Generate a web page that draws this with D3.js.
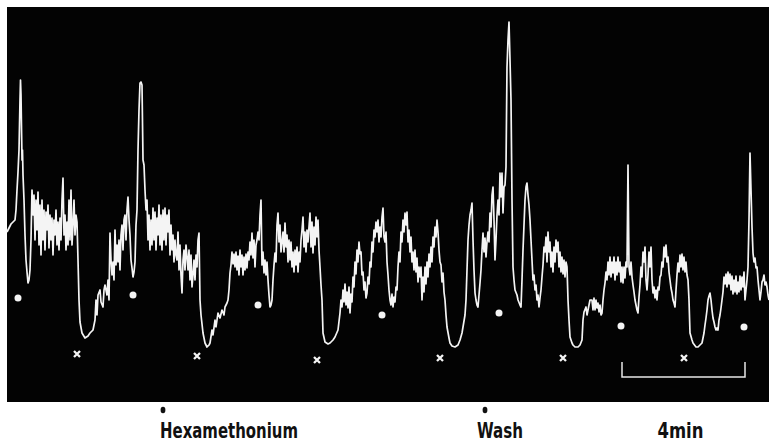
<!DOCTYPE html>
<html>
<head>
<meta charset="utf-8">
<script src="https://cdn.jsdelivr.net/npm/d3@7"></script>
<style>
  body { margin: 0; background: #fff; }
  svg { display: block; }
</style>
</head>
<body>
<svg id="chart"></svg>
<script>
// trace: [time (samples), level (arbitrary units)]
var trace = [
  [0,170],[2,174],[4,178],[6,180],[8,182],[9,192],[10,212],[11,230],[12,252],[13,302],[13.5,322],[14,307],[15,242],[15.5,252],[16,227],[17,202],[18,167],[19,142],[20,130],[21,119],[22,122],[23,132],[24,162],[25,212],[26,187],[27,207],[28,162],[29,202],[30,172],[31,210],[32,157],[33,197],[34,147],[35,202],[36,162],[37,192],[38,152],[39,190],[40,172],[41,197],[42,154],[43,187],[44,162],[45,184],[46,147],[47,182],[48,167],[49,192],[50,157],[51,180],[52,152],[53,184],[54,162],[55,202],[56,224],[57,167],[58,187],[59,152],[60,180],[61,157],[62,202],[63,162],[64,212],[65,157],[66,177],[67,202],[68,167],[69,187],[70,180],[71,142],[72,102],[73,80],[75,69],[78,64],[81,66],[83,69],[86,72],[88,82],[89,102],[90,87],[91,107],[93,112],[94,100],[96,95],[97,112],[98,117],[100,107],[101,122],[102,102],[103,169],[104,142],[105,127],[106,140],[107,122],[108,172],[109,137],[110,157],[111,140],[112,162],[113,132],[114,167],[115,177],[116,152],[117,182],[118,187],[119,162],[120,192],[121,205],[122,182],[123,167],[124,142],[125,134],[126,125],[127,130],[128,140],[129,177],[130,192],[131,252],[132,292],[133,319],[134,320],[135,317],[136,242],[137,237],[138,212],[139,192],[140,202],[141,162],[142,187],[143,152],[144,182],[145,157],[146,194],[147,162],[148,190],[149,152],[150,184],[151,167],[152,197],[153,157],[154,187],[155,152],[156,192],[157,162],[158,194],[159,157],[160,187],[161,170],[162,192],[163,147],[164,177],[165,152],[166,167],[167,140],[168,162],[169,147],[170,142],[171,170],[172,132],[173,157],[174,127],[175,109],[176,142],[177,152],[178,132],[179,157],[180,145],[181,132],[182,152],[183,122],[184,147],[185,115],[186,127],[187,142],[188,122],[189,147],[190,135],[191,162],[192,169],[193,102],[194,87],[196,69],[198,59],[200,55],[202,57],[203,59],[205,72],[206,67],[208,82],[209,75],[211,89],[213,84],[215,92],[217,87],[218,95],[220,99],[221,102],[222,112],[223,129],
  [224,137],[225,150],[226,138],[227,148],[228,135],[229,150],[230,132],[231,146],[232,127],[233,152],[234,135],[235,147],[236,127],[237,145],[238,132],[239,148],[240,134],[241,150],[242,142],[243,160],[244,147],[245,169],[246,144],[247,162],[248,135],[249,157],[250,162],[251,170],[252,162],[253,187],[254,202],
  [255,137],[256,150],[257,129],[258,142],[259,127],[260,140],[261,122],[262,107],[263,95],[264,97],[265,102],[266,122],[267,137],[268,149],[269,140],[270,177],[271,189],[272,160],[273,177],[274,150],[275,160],[276,170],[277,150],[278,179],[279,155],[280,167],[281,140],[282,162],[283,142],[284,160],[285,135],[286,150],[287,130],[288,152],[289,137],[290,155],[291,130],[292,150],[293,140],[294,162],[295,172],[296,185],[297,155],[298,170],[299,150],[300,172],[301,160],[302,175],[303,189],[304,155],[305,180],[306,149],[307,175],[308,157],[309,185],[310,165],[311,182],[312,152],[313,135],[314,117],[315,102],
  [316,69],[318,60],[321,58],[323,59],[326,62],[328,65],[331,72],
  [333,89],[334,102],[335,95],[336,112],[337,100],[338,118],[339,97],[340,110],[341,94],[342,115],[343,89],[344,108],[345,100],[346,125],[347,115],[348,140],[349,128],[350,152],[351,140],[352,160],[353,148],[354,150],[355,127],[356,130],[357,112],[358,120],[359,104],[360,109],[361,125],[362,118],[363,140],[364,135],[365,160],[366,150],[367,172],[368,165],[369,180],[370,170],[371,182],[372,160],[373,175],[374,165],[375,185],[376,194],[377,165],[378,160],[379,170],[380,140],[381,127],[382,112],[383,102],[384,97],[385,108],[386,95],[387,105],[388,100],[389,115],[390,112],[391,135],[392,150],[393,140],[394,170],[395,160],[396,182],[397,170],[398,189],[399,177],[400,190],[401,160],[402,172],[403,150],[404,165],[405,140],[406,150],[407,132],[408,152],[409,130],[410,144],[411,120],[412,135],[413,125],[414,135],[415,102],[416,125],[417,110],[418,135],[419,118],[420,140],[421,125],[422,148],[423,135],[424,155],[425,140],[426,165],[427,155],[428,175],[429,165],[430,182],[431,170],[432,152],[433,140],[434,137],[435,120],[436,129],[437,110],[438,102],
  [439,87],[440,75],[442,64],[443,59],[445,56],[448,55],[451,57],[453,62],[455,69],[456,75],[458,87],[459,102],[460,132],[461,162],[462,177],[463,187],[464,192],[465,199],
  [466,162],[467,132],[468,109],[469,102],[470,97],[471,95],[472,107],[473,119],[474,132],[475,152],[476,169],[477,150],[478,164],[479,145],[480,160],[481,170],[482,160],[483,189],[484,175],[485,207],[486,215],[487,182],[488,142],[489,162],[490,187],[491,202],[492,187],[493,229],[494,205],[495,229],[496,189],[497,215],[498,217],[499,235],[500,335],[501,362],[502,380],[503,342],[504,302],[505,202],[506,135],[507,122],[508,112],[510,107],[511,102],[513,97],[514,95],[515,122],[516,152],[517,177],[518,202],[519,215],[520,219],
  [521,207],[522,197],[523,182],[524,162],[525,142],[526,122],[527,127],[528,112],[529,117],[530,102],[531,107],[532,95],[533,104],[534,112],[535,125],[536,137],[537,155],[538,150],[539,165],[540,140],[541,170],[542,150],[543,160],[544,135],[545,150],[546,130],[547,155],[548,140],[549,162],[550,150],[551,160],[552,135],[553,150],[554,130],[555,145],[556,128],[557,142],[558,125],[559,140],[560,135],
  [561,102],[562,82],[563,65],[565,59],[566,57],[568,55],[571,55],[573,57],[575,62],[576,82],[577,90],[579,95],[580,87],[581,92],[582,97],[583,102],[585,102],[586,92],[587,104],[588,92],[589,102],[590,94],[591,99],[592,90],[593,97],[594,87],[595,89],
  [596,102],[597,112],[598,119],[599,130],[600,122],[601,140],[602,127],[603,145],[604,125],[605,140],[606,129],[607,145],[608,122],[609,140],[610,127],[611,145],[612,130],[613,140],[614,120],[615,135],[616,119],[617,135],[618,124],[619,140],[620,135],[621,237],[622,135],[623,127],[624,140],[625,125],[626,117],[627,110],[628,102],[629,97],[630,92],[631,89],[632,105],[633,117],[634,135],[635,125],[636,150],[637,140],[638,155],[639,122],[640,112],[641,127],[642,150],[643,135],[644,155],[645,122],[646,109],[647,115],[648,104],[649,112],[650,102],[651,115],[652,112],[653,125],[654,127],[655,140],[656,135],[657,155],[658,145],[659,157],[660,140],[661,145],[662,130],[663,122],[664,114],[665,109],[666,102],[667,99],[668,95],[669,112],[670,127],[671,139],[672,130],[673,147],[674,135],[675,148],[676,132],[677,145],[678,130],[679,140],[680,127],[681,122],[682,102],
  [683,69],[685,62],[686,59],[689,55],[691,55],[693,57],[695,59],[696,64],[697,69],[698,77],[699,84],[700,92],[701,102],[702,106],[703,109],[704,102],[705,92],[706,84],[707,80],[708,75],[709,72],[710,74],[711,72],[712,82],[713,87],[714,94],
  [715,102],[716,110],[717,125],[718,118],[719,128],[720,115],[721,130],[722,118],[723,128],[724,112],[725,126],[726,108],[727,122],[728,110],[729,126],[730,108],[731,120],[732,110],[733,126],[734,112],[735,125],[736,115],[737,130],[738,102],[739,112],[740,122],[741,135],[742,182],[743,249],[744,212],[745,175],[746,149],[747,140],[748,144],[749,134],[750,135],[751,122],[752,112],[753,102],[754,110],[755,120],[756,122],[757,127],[758,117],[759,120],[760,115],[761,107],[762,102]
];

// dots (contraction onset) and crosses (relaxation) marked on the record
var dotMarks = [[11,104],[126,107],[251,97],[375,87],[492,89],[614,76],[737,75]];
var crossMarks = [[70,48],[190,46],[310,42],[433,44],[556,44],[677,44]];

// events under the record
var eventNames = ["Hexamethonium", "Wash"];
var eventTimes = [156, 478];
var eventLabelStart = [153, 470];
var eventLabelWidth = [138, 46];

// time calibration bar: 4 min
var barTimes = [615, 738];
var barLevels = [40, 25];
var barLabel = "4min";

var width = 769, height = 443;
var panel = {left: 7, top: 7, right: 769, bottom: 402};

var svg = d3.select("#chart")
    .attr("width", width)
    .attr("height", height);

var x = d3.scaleLinear()
    .domain([0, 762])
    .range([panel.left, panel.right]);

var y = d3.scaleLinear()
    .domain([0, 395])
    .range([panel.bottom, panel.top]);

svg.append("rect")
    .attr("x", panel.left)
    .attr("y", panel.top)
    .attr("width", panel.right - panel.left)
    .attr("height", panel.bottom - panel.top)
    .attr("fill", "#030303");

var line = d3.line()
    .x(function(d) { return x(d[0]); })
    .y(function(d) { return y(d[1]); });

svg.append("path")
    .datum(trace)
    .attr("d", line)
    .attr("fill", "none")
    .attr("stroke", "#f4f4f4")
    .attr("stroke-width", 1.7)
    .attr("stroke-linejoin", "round");

svg.selectAll(".dot")
    .data(dotMarks)
    .enter().append("circle")
    .attr("class", "dot")
    .attr("cx", function(d) { return x(d[0]); })
    .attr("cy", function(d) { return y(d[1]); })
    .attr("r", 3.5)
    .attr("fill", "#f4f4f4");

svg.selectAll(".cross")
    .data(crossMarks)
    .enter().append("path")
    .attr("class", "cross")
    .attr("d", function(d) {
        var cx = x(d[0]), cy = y(d[1]), s = 3;
        return "M" + (cx - s) + "," + (cy - s) + "L" + (cx + s) + "," + (cy + s) +
               "M" + (cx + s) + "," + (cy - s) + "L" + (cx - s) + "," + (cy + s);
    })
    .attr("stroke", "#f4f4f4")
    .attr("stroke-width", 2.3);

// 4 min bracket
svg.append("path")
    .attr("d", "M" + x(barTimes[0]) + "," + y(barLevels[0]) +
               "V" + y(barLevels[1]) +
               "H" + x(barTimes[1]) +
               "V" + y(barLevels[0]))
    .attr("fill", "none")
    .attr("stroke", "#e8e8e8")
    .attr("stroke-width", 1.5);

// event markers and labels below the panel
var labelFont = "'Liberation Sans Narrow', 'DejaVu Sans Condensed', sans-serif";

svg.selectAll(".evdot")
    .data(eventTimes)
    .enter().append("ellipse")
    .attr("class", "evdot")
    .attr("cx", function(d) { return x(d); })
    .attr("cy", 410)
    .attr("rx", 2.4)
    .attr("ry", 3.2)
    .attr("fill", "#111");

svg.selectAll(".evlabel")
    .data(eventNames)
    .enter().append("text")
    .attr("class", "evlabel")
    .attr("x", function(d, i) { return x(eventLabelStart[i]); })
    .attr("y", 438)
    .attr("font-family", labelFont)
    .attr("font-weight", "bold")
    .attr("font-size", 21)
    .attr("fill", "#111")
    .attr("textLength", function(d, i) { return eventLabelWidth[i]; })
    .attr("lengthAdjust", "spacingAndGlyphs")
    .text(function(d) { return d; });

svg.append("text")
    .attr("x", x((barTimes[0] + barTimes[1]) / 2) - 3)
    .attr("y", 438)
    .attr("text-anchor", "middle")
    .attr("font-family", labelFont)
    .attr("font-weight", "bold")
    .attr("font-size", 21)
    .attr("fill", "#111")
    .attr("textLength", 46)
    .attr("lengthAdjust", "spacingAndGlyphs")
    .text(barLabel);
</script>
</body>
</html>
